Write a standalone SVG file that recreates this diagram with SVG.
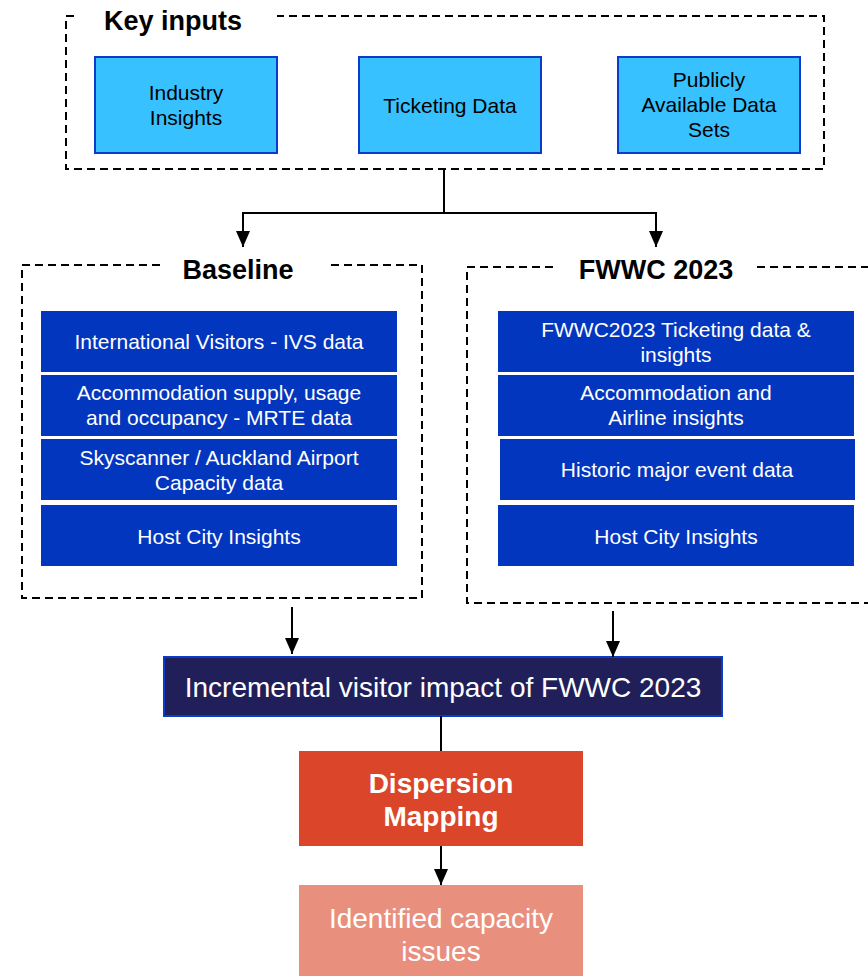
<svg xmlns="http://www.w3.org/2000/svg" width="868" height="976" viewBox="0 0 868 976">
<style>
.dash{fill:none;stroke:#000;stroke-width:2;stroke-dasharray:8 5}
.title{font-family:"Liberation Sans",Arial,sans-serif;font-weight:bold;font-size:27px;fill:#000}
.inp{fill:#38C1FF;stroke:#0B3BC8;stroke-width:2}
.inpt{font-family:"Liberation Sans",Arial,sans-serif;font-size:21px;fill:#000;text-anchor:middle}
.blue{fill:#0336BE}
.bt{font-family:"Liberation Sans",Arial,sans-serif;font-size:21px;fill:#fff;text-anchor:middle}
.big{font-family:"Liberation Sans",Arial,sans-serif;font-size:28px;fill:#fff;text-anchor:middle}
.conn{fill:none;stroke:#000;stroke-width:2}
</style>
<defs>
<marker id="ah" viewBox="0 0 16 14" refX="16" refY="7" markerWidth="16" markerHeight="14" markerUnits="userSpaceOnUse" orient="auto"><path d="M0 0 L16 7 L0 14 z" fill="#000"/></marker>
</defs>
<g id="key-inputs">
<path class="dash" d="M74 16 H66 V169 H824 V16 H277"/>
<text class="title" x="104" y="30">Key inputs</text>
</g>
<g id="industry-insights">
<rect class="inp" x="95" y="57" width="182" height="96"/>
<text class="inpt" x="186" y="100">Industry</text>
<text class="inpt" x="186" y="125">Insights</text>
</g>
<g id="ticketing-data">
<rect class="inp" x="359" y="57" width="182" height="96"/>
<text class="inpt" x="450" y="113">Ticketing Data</text>
</g>
<g id="public-data">
<rect class="inp" x="618" y="57" width="182" height="96"/>
<text class="inpt" x="709" y="87">Publicly</text>
<text class="inpt" x="709" y="112">Available Data</text>
<text class="inpt" x="709" y="137">Sets</text>
</g>
<g id="baseline">
<path class="dash" d="M160 265 H22 V598 H422 V265 H327"/>
<text class="title" x="238" y="279" text-anchor="middle">Baseline</text>
</g>
<g id="b-ivs"><rect class="blue" x="41" y="311" width="356" height="61"/><text class="bt" x="219" y="349">International Visitors - IVS data</text></g>
<g id="b-mrte"><rect class="blue" x="41" y="375" width="356" height="61"/><text class="bt" x="219" y="400">Accommodation supply, usage</text><text class="bt" x="219" y="425">and occupancy - MRTE data</text></g>
<g id="b-sky"><rect class="blue" x="41" y="439" width="356" height="61"/><text class="bt" x="219" y="465">Skyscanner / Auckland Airport</text><text class="bt" x="219" y="490">Capacity data</text></g>
<g id="b-host"><rect class="blue" x="41" y="505" width="356" height="61"/><text class="bt" x="219" y="544">Host City Insights</text></g>
<g id="fwwc">
<path class="dash" d="M553 267 H467 V603 H868 M757 267 H868"/>
<text class="title" x="656" y="279" text-anchor="middle">FWWC 2023</text>
</g>
<g id="f-ticket"><rect class="blue" x="498" y="311" width="356" height="61"/><text class="bt" x="676" y="337">FWWC2023 Ticketing data &amp;</text><text class="bt" x="676" y="362">insights</text></g>
<g id="f-accom"><rect class="blue" x="498" y="375" width="356" height="61"/><text class="bt" x="676" y="400">Accommodation and</text><text class="bt" x="676" y="425">Airline insights</text></g>
<g id="f-hist"><rect class="blue" x="500" y="439" width="355" height="61"/><text class="bt" x="677" y="477">Historic major event data</text></g>
<g id="f-host"><rect class="blue" x="498" y="505" width="356" height="61"/><text class="bt" x="676" y="544">Host City Insights</text></g>
<g id="incremental">
<rect x="164" y="657" width="558" height="59" fill="#201F5A" stroke="#0B3BC8" stroke-width="2"/>
<text class="big" x="443" y="697">Incremental visitor impact of FWWC 2023</text>
</g>
<g id="dispersion">
<rect x="299" y="751" width="284" height="95" fill="#DB4529"/>
<text class="big" x="441" y="793" font-weight="bold">Dispersion</text>
<text class="big" x="441" y="826" font-weight="bold">Mapping</text>
</g>
<g id="capacity">
<rect x="299" y="885" width="284" height="91" fill="#E98F7E"/>
<text class="big" x="441" y="928">Identified capacity</text>
<text class="big" x="441" y="961">issues</text>
</g>
<g id="connectors">
<path class="conn" d="M444 169 V213"/>
<path class="conn" d="M444 213 H243 V247" marker-end="url(#ah)"/>
<path class="conn" d="M444 213 H656 V247" marker-end="url(#ah)"/>
<path class="conn" d="M292 607 V654" marker-end="url(#ah)"/>
<path class="conn" d="M613 611 V657" marker-end="url(#ah)"/>
<path class="conn" d="M441 716 V751"/>
<path class="conn" d="M441 846 V885" marker-end="url(#ah)"/>
</g>
</svg>
